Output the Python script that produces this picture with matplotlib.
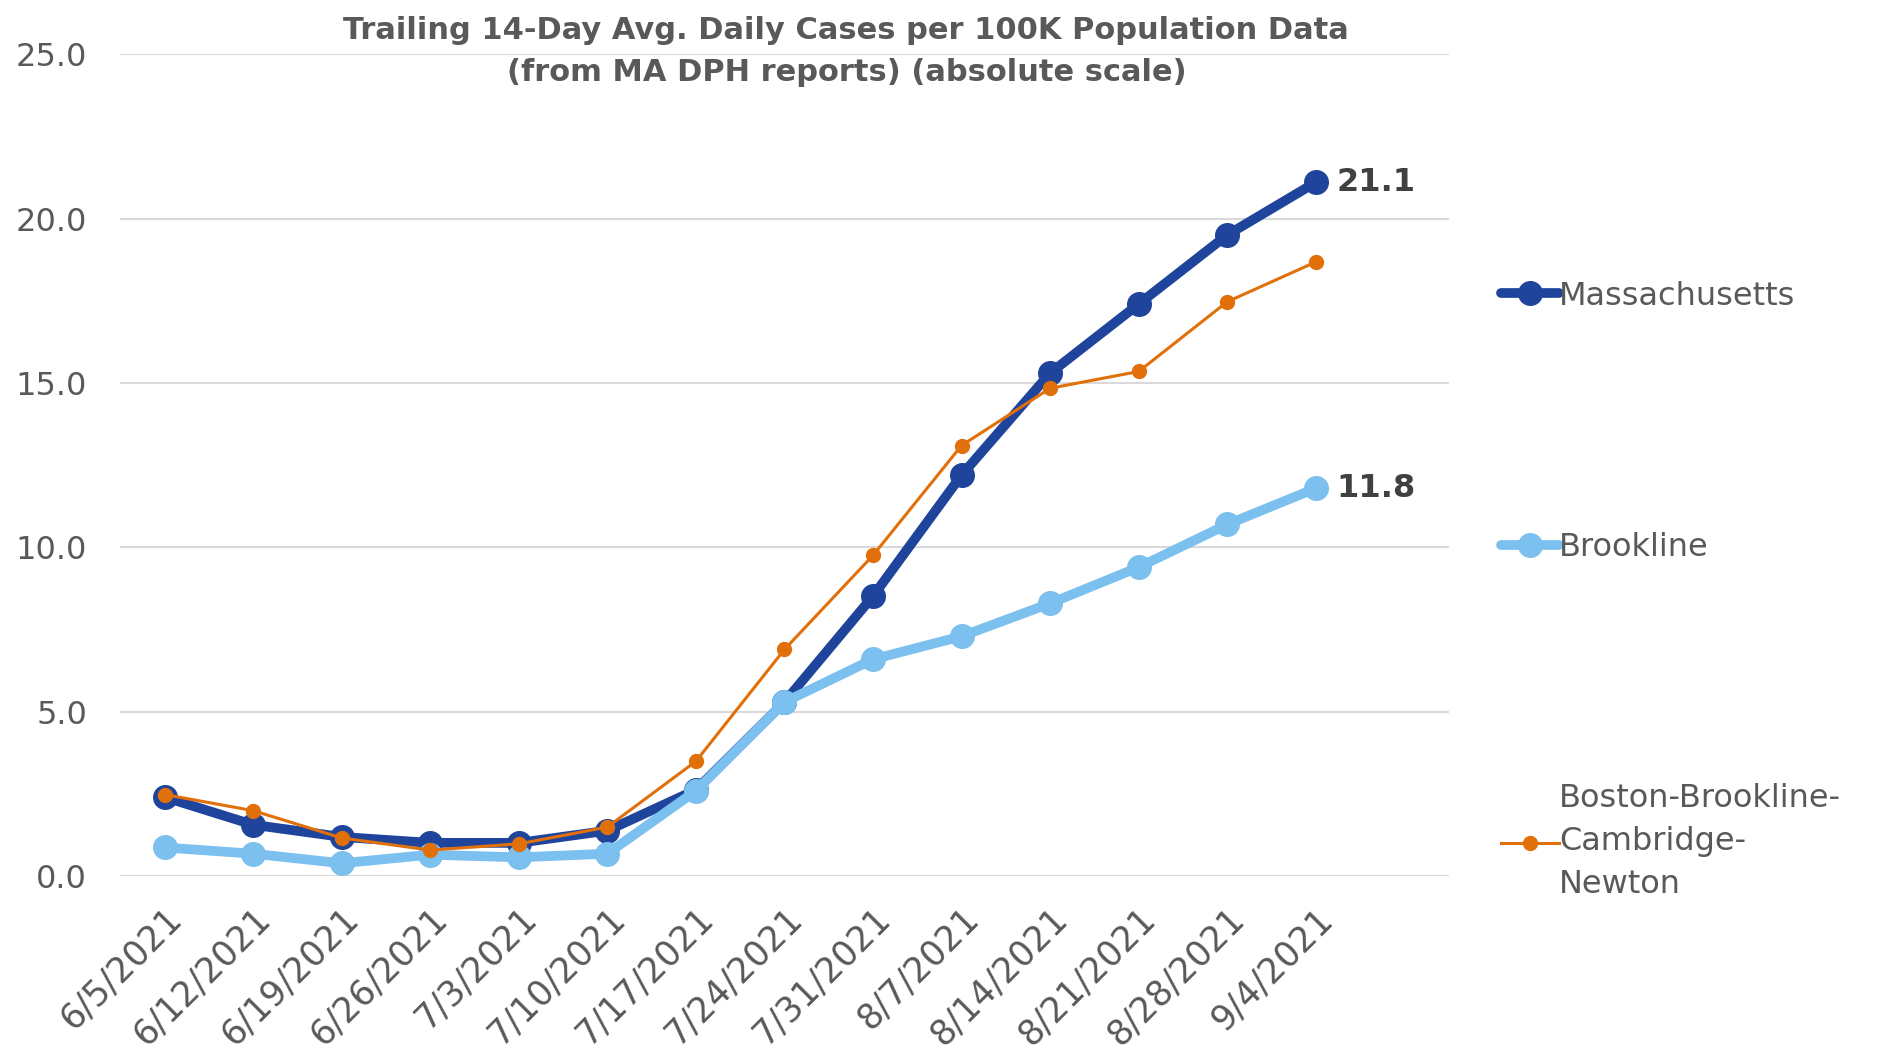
import matplotlib.pyplot as plt

plt.rcParams['font.family'] = ['DejaVu Sans']

dates = ['6/5/2021', '6/12/2021', '6/19/2021', '6/26/2021', '7/3/2021', '7/10/2021',
         '7/17/2021', '7/24/2021', '7/31/2021', '8/7/2021', '8/14/2021', '8/21/2021',
         '8/28/2021', '9/4/2021']

massachusetts = [2.41, 1.57, 1.2, 1.02, 1.02, 1.39, 2.63, 5.3, 8.52, 12.2, 15.3, 17.4, 19.5, 21.1]
brookline = [0.88, 0.69, 0.4, 0.66, 0.58, 0.69, 2.6, 5.3, 6.6, 7.3, 8.3, 9.4, 10.7, 11.8]
bbcn = [2.49, 2.0, 1.17, 0.8, 0.99, 1.5, 3.5, 6.9, 9.76, 13.1, 14.84, 15.35, 17.47, 18.68]

yticks = [0, 5, 10, 15, 20, 25]

gray = '#595959'
dark_blue = '#1F449C'
light_blue = '#7BC0EE'
orange = '#E2700A'

fig = plt.figure(figsize=(18.85, 10.52), dpi=100)
ax = fig.add_axes([0.0638, 0.1669, 0.7047, 0.7817])

x = list(range(len(dates)))
ax.plot(x, massachusetts, color=dark_blue, lw=7, marker='o', ms=17,
        solid_capstyle='round', label='Massachusetts', zorder=3)
ax.plot(x, brookline, color=light_blue, lw=7, marker='o', ms=17,
        solid_capstyle='round', label='Brookline', zorder=4)
ax.plot(x, bbcn, color=orange, lw=2.2, marker='o', ms=10,
        label='Boston-Brookline-\nCambridge-\nNewton', zorder=5)

# value labels on the last points
for vals in (massachusetts, brookline):
    ax.annotate(f'{vals[-1]:.1f}', (x[-1], vals[-1]), xytext=(15, 0),
                textcoords='offset points', va='center', ha='left',
                fontsize=23, fontweight='bold', color='#404040')

ax.set_xlim(-0.5, len(dates) + 0.5)
ax.set_ylim(0, 25)
ax.set_yticks(yticks)
ax.set_yticklabels([f'{v:.1f}' for v in yticks])
ax.set_xticks(x)
ax.set_xticklabels(dates, rotation=45, ha='right', va='top', rotation_mode='anchor')

ax.tick_params(axis='y', length=0, pad=24, labelsize=23, labelcolor=gray)
ax.tick_params(axis='x', length=0, pad=18, labelsize=25, labelcolor=gray)
ax.grid(axis='y', color='#D9D9D9', lw=1.5)
ax.set_axisbelow(True)
for s in ax.spines.values():
    s.set_visible(False)

leg = ax.legend(loc='upper left', bbox_to_anchor=(1.03, 0.74), frameon=False,
                fontsize=23, labelcolor=gray, labelspacing=6.9, handlelength=1.8,
                handletextpad=0.0, borderaxespad=0)
for t in leg.get_texts():
    t.set_linespacing(1.5)

fig.text(0.449, 0.951, 'Trailing 14-Day Avg. Daily Cases per 100K Population Data\n'
         '(from MA DPH reports) (absolute scale)', ha='center', va='center',
         fontsize=22, fontweight='bold', color=gray, linespacing=1.6)

fig.savefig('out.png', dpi=100)
